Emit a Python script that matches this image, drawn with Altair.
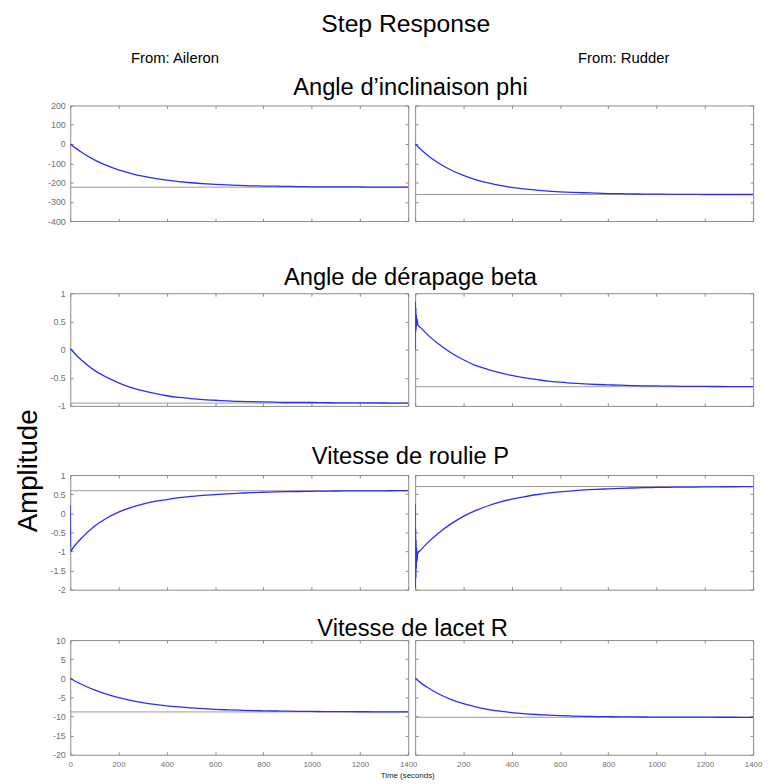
import altair as alt
import pandas as pd

# ---------------- data ----------------
T = [0, 10, 25, 50, 100, 150, 200, 250, 300, 350, 400, 450, 500, 550, 600, 650, 700,
     750, 800, 850, 900, 950, 1000, 1050, 1100, 1150, 1200, 1250, 1300, 1350, 1400]

# Row 1: Angle d'inclinaison phi
phi_ail = [0, -10, -24, -45, -82, -111, -134, -152, -167, -178, -188, -195, -201, -206, -209, -212, -215,
           -217, -218, -219, -220, -221, -222, -222, -223, -223, -223, -224, -224, -224, -224]
phi_rud = [0, -12, -30, -57, -101, -136, -163, -185, -201, -215, -225, -233, -239, -244, -248, -251, -253,
           -255, -257, -258, -259, -260, -260, -261, -261, -261, -262, -262, -262, -262, -262]
# Row 2: Angle de dérapage beta
beta_ail = [0.02, -0.03, -0.10, -0.20, -0.37, -0.49, -0.59, -0.67, -0.73, -0.78, -0.82, -0.85, -0.87, -0.89,
            -0.90, -0.91, -0.92, -0.925, -0.93, -0.935, -0.94, -0.94, -0.94, -0.943, -0.945, -0.946, -0.947,
            -0.948, -0.949, -0.95, -0.95]
beta_rud_start_t = [0, 1, 2, 3, 4, 5, 6, 8, 10]
beta_rud_start = [0.0, 0.85, 0.30, 0.75, 0.35, 0.62, 0.42, 0.55, 0.45]
beta_rud = [0.48, 0.45, 0.38, 0.27, 0.09, -0.06, -0.18, -0.28, -0.35, -0.41, -0.46, -0.50, -0.53, -0.56,
            -0.58, -0.595, -0.61, -0.62, -0.627, -0.633, -0.639, -0.643, -0.646, -0.65, -0.652, -0.654,
            -0.655, -0.656, -0.657, -0.658, -0.658]
# Row 3: Vitesse de roulie P
p_ail_start_t = [0, 2]
p_ail_start = [0.2, -1.0]
p_ail = [-1.0, -0.92, -0.80, -0.63, -0.34, -0.13, 0.03, 0.15, 0.24, 0.31, 0.36, 0.41, 0.44, 0.47, 0.49,
         0.51, 0.525, 0.54, 0.55, 0.56, 0.565, 0.57, 0.575, 0.58, 0.583, 0.585, 0.587, 0.588, 0.589, 0.59, 0.59]
p_rud_start_t = [0, 1, 2, 3, 4, 5, 6, 8, 10]
p_rud_start = [0.25, -1.95, -0.4, -1.7, -0.7, -1.45, -0.9, -1.25, -1.06]
p_rud = [-1.1, -1.06, -0.95, -0.78, -0.50, -0.27, -0.08, 0.07, 0.19, 0.29, 0.37, 0.43, 0.485, 0.53, 0.56,
         0.587, 0.61, 0.627, 0.64, 0.652, 0.661, 0.669, 0.675, 0.68, 0.684, 0.687, 0.69, 0.692, 0.694,
         0.695, 0.696]
# Row 4: Vitesse de lacet R
r_ail = [0, -0.37, -0.89, -1.69, -3.05, -4.15, -5.04, -5.76, -6.35, -6.82, -7.2, -7.5, -7.75, -7.95, -8.12,
         -8.25, -8.35, -8.44, -8.51, -8.56, -8.61, -8.65, -8.68, -8.7, -8.72, -8.74, -8.75, -8.76, -8.77,
         -8.78, -8.78]
r_rud = [0, -0.52, -1.26, -2.36, -4.17, -5.57, -6.64, -7.47, -8.1, -8.59, -8.96, -9.25, -9.47, -9.64, -9.77,
         -9.87, -9.94, -10.0, -10.05, -10.08, -10.11, -10.13, -10.15, -10.16, -10.17, -10.18, -10.18,
         -10.19, -10.19, -10.2, -10.2]

steady = {
    "phi": [-224, -262],
    "beta": [-0.95, -0.66],
    "p": [0.59, 0.70],
    "r": [-8.8, -10.2],
}
row_titles = ["Angle d\u2019inclinaison phi", "Angle de d\u00e9rapage beta",
              "Vitesse de roulie P", "Vitesse de lacet R"]
col_titles = ["From: Aileron", "From: Rudder"]
x_ticks = [0, 200, 400, 600, 800, 1000, 1200, 1400]
y_domains = [[-400, 200], [-1, 1], [-2, 1], [-20, 10]]
y_ticks = [[-400, -300, -200, -100, 0, 100, 200],
           [-1, -0.5, 0, 0.5, 1],
           [-2, -1.5, -1, -0.5, 0, 0.5, 1],
           [-20, -15, -10, -5, 0, 5, 10]]

# ---------------- styling ----------------
FONT = "Liberation Sans"
BOX = "#8a8a8a"
LINE = "#2b2bff"
W = 342
BIG = 24
ROW_H = [117, 114, 116, 116]
ROW_OFFSETS = [1, -1, 2, -5]
ROW_DX = [12, 12, 12, 10]
GAPS = [39, 33, 21]


def spacer(w, h, title=None):
    c = alt.Chart(pd.DataFrame({"v": [0]})).mark_point(opacity=0, size=0).encode(
        x=alt.X("v:Q", axis=None, scale=alt.Scale(domain=[0, 1])),
        y=alt.Y("v:Q", axis=None, scale=alt.Scale(domain=[0, 1])),
    ).properties(width=w, height=h, view=alt.ViewBackground(stroke=None))
    if title is not None:
        c = c.properties(title=title)
    return c


def panel(times, vals, ss, ydom, yt, height, left_labels, bottom_labels, hide_zero):
    df = pd.DataFrame({"t": times, "v": vals})
    xs = alt.Scale(domain=[0, 1400], nice=False, zero=False)
    ys = alt.Scale(domain=ydom, nice=False, zero=False)
    tick_common = dict(domain=False, grid=False, tickSize=3, tickColor=BOX, offset=-3, title=None)
    lab = "'' + datum.value"
    if hide_zero:
        lab = "datum.value == 0 ? '' : '' + datum.value"
    xaxis = alt.Axis(orient="bottom", values=x_ticks, labels=bottom_labels, labelFontSize=8,
                     labelPadding=6, labelFlush=False, labelOverlap=False, labelExpr=lab,
                     **tick_common)
    yargs = dict(orient="left", values=yt, labels=left_labels, labelFontSize=9,
                 labelPadding=5, labelOverlap=False, labelExpr="'' + datum.value", **tick_common)
    if left_labels:
        yargs["minExtent"] = 30
    yaxis = alt.Axis(**yargs)
    top_axis = alt.Axis(orient="top", values=x_ticks, labels=False, **tick_common)
    right_axis = alt.Axis(orient="right", values=yt, labels=False, **tick_common)

    rule = alt.Chart(pd.DataFrame({"s": [ss]})).mark_rule(color="#9a9a9a", strokeWidth=1).encode(
        y=alt.Y("s:Q", scale=ys, axis=None)
    )
    line = alt.Chart(df).mark_line(color=LINE, strokeWidth=1.3, clip=True, interpolate="monotone").encode(
        x=alt.X("t:Q", scale=xs, axis=xaxis),
        y=alt.Y("v:Q", scale=ys, axis=yaxis),
    )
    ghost = alt.Chart(df).mark_point(opacity=0, size=0).encode(
        x=alt.X("t:Q", scale=xs, axis=top_axis),
        y=alt.Y("v:Q", scale=ys, axis=right_axis),
    )
    return alt.layer(rule, line, ghost).resolve_axis(x="independent", y="independent").properties(
        width=W, height=height, view=alt.ViewBackground(stroke=BOX, strokeWidth=1)
    )


series = [
    ((T, phi_ail), (T, phi_rud), "phi"),
    ((T, beta_ail), (beta_rud_start_t + T[2:], beta_rud_start + beta_rud[2:]), "beta"),
    ((p_ail_start_t + T[1:], p_ail_start + p_ail[1:]), (p_rud_start_t + T[2:], p_rud_start + p_rud[2:]), "p"),
    ((T, r_ail), (T, r_rud), "r"),
]

rows = []
for i, (left, right, key) in enumerate(series):
    last = i == 3
    pl = panel(left[0], left[1], steady[key][0], y_domains[i], y_ticks[i], ROW_H[i], True, last, False)
    pr = panel(right[0], right[1], steady[key][1], y_domains[i], y_ticks[i], ROW_H[i], False, last, True)
    row = alt.hconcat(pl, pr, spacing=7, bounds="flush").properties(
        title=alt.TitleParams(row_titles[i], fontSize=BIG, offset=ROW_OFFSETS[i], anchor="middle",
                              dx=ROW_DX[i], font=FONT, fontWeight="normal", color="black")
    )
    rows.append(row)

header = alt.hconcat(
    spacer(W, 10, alt.TitleParams(col_titles[0], fontSize=15, offset=0, anchor="middle", frame="group",
                                  dx=-65, font=FONT, fontWeight="normal", color="black")),
    spacer(W, 10, alt.TitleParams(col_titles[1], fontSize=15, offset=0, anchor="middle", frame="group",
                                  dx=40, font=FONT, fontWeight="normal", color="black")),
    spacing=7, bounds="flush",
)

inner = alt.vconcat(header, rows[0], spacer(1, GAPS[0]), rows[1], spacer(1, GAPS[1]),
                    rows[2], spacer(1, GAPS[2]), rows[3], spacing=0).properties(
    title=alt.TitleParams("Time (seconds)", orient="bottom", fontSize=8, offset=3, anchor="middle",
                          dx=5, font=FONT, fontWeight="normal", color="#222222")
)
mid = alt.vconcat(inner, spacing=0).properties(
    title=alt.TitleParams("Amplitude", orient="left", fontSize=28, offset=0, anchor="middle",
                          dx=-56, font=FONT, fontWeight="normal", color="black")
)
chart = alt.vconcat(mid, spacing=0).properties(
    title=alt.TitleParams("Step Response", fontSize=25, offset=14, anchor="middle", dx=17,
                          font=FONT, fontWeight="normal", color="black"),
    padding={"left": 7, "top": 0, "right": 0, "bottom": 0},
).configure_axis(
    labelFont=FONT, labelColor="#707070"
).configure_view(
    stroke=None
)

chart.save("out.html", embed_options={"renderer": "svg", "actions": False})
